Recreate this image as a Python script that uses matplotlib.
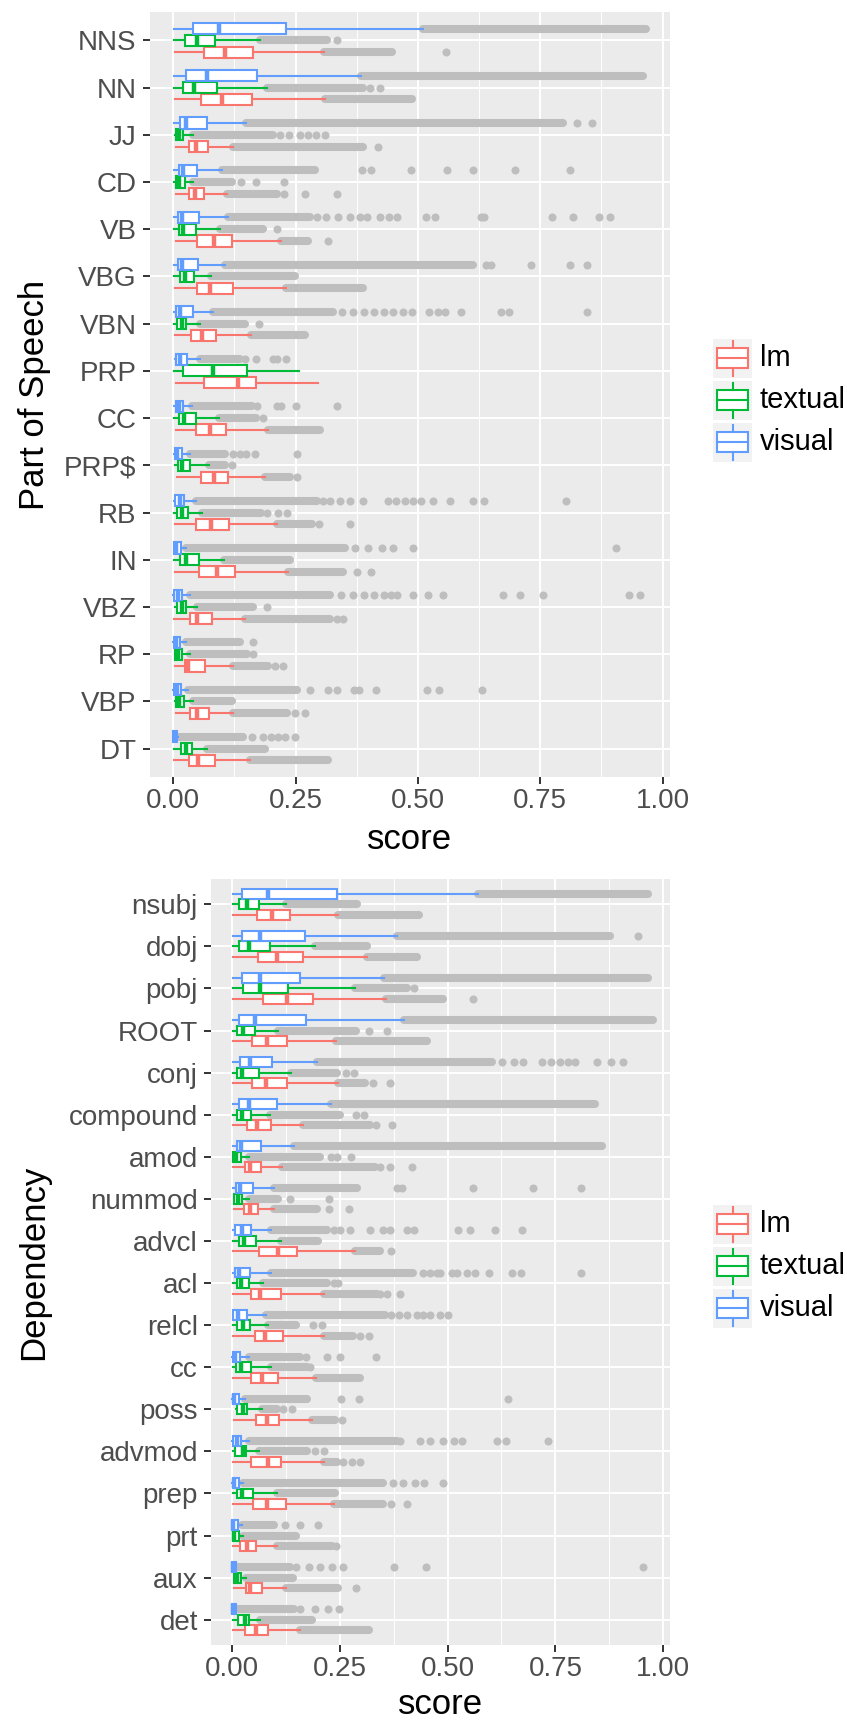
import numpy as np
import matplotlib
matplotlib.use("Agg")
import matplotlib.pyplot as plt
from matplotlib.patches import Rectangle

plt.rcParams['font.family'] = ['Liberation Sans', 'DejaVu Sans']

# ---- part of speech panel ----
pos_cats = ["NNS", "NN", "JJ", "CD", "VB", "VBG", "VBN", "PRP", "CC", "PRP$",
            "RB", "IN", "VBZ", "RP", "VBP", "DT"]

# per category: whisker low, q1, median, q3, whisker high, end of dense outlier run
pos_visual = [
    (0.002, 0.040, 0.093, 0.230, 0.510, 0.967),
    (0.002, 0.027, 0.068, 0.171, 0.383, 0.960),
    (0.002, 0.013, 0.027, 0.069, 0.149, 0.797),
    (0.002, 0.011, 0.019, 0.048, 0.099, 0.290),
    (0.002, 0.009, 0.017, 0.052, 0.112, 0.279),
    (0.002, 0.009, 0.017, 0.050, 0.106, 0.613),
    (0.002, 0.006, 0.014, 0.040, 0.082, 0.327),
    (0.003, 0.005, 0.014, 0.029, 0.055, 0.136),
    (0.002, 0.005, 0.012, 0.020, 0.039, 0.160),
    (0.002, 0.003, 0.008, 0.018, 0.034, 0.106),
    (0.002, 0.003, 0.014, 0.022, 0.046, 0.293),
    (0.001, 0.002, 0.006, 0.015, 0.027, 0.351),
    (0.000, 0.001, 0.010, 0.018, 0.035, 0.320),
    (0.000, 0.002, 0.006, 0.014, 0.027, 0.136),
    (0.000, 0.002, 0.007, 0.015, 0.031, 0.252),
    (0.000, 0.000, 0.003, 0.007, 0.010, 0.143),
]
pos_visual_pts = [
    [], [], [0.826, 0.856],
    [0.385, 0.405, 0.485, 0.559, 0.612, 0.699, 0.811],
    [0.293, 0.313, 0.337, 0.361, 0.381, 0.395, 0.422, 0.441, 0.458, 0.516, 0.535,
     0.628, 0.635, 0.774, 0.817, 0.871, 0.892],
    [0.640, 0.650, 0.732, 0.811, 0.846],
    [0.344, 0.368, 0.390, 0.410, 0.430, 0.450, 0.470, 0.487, 0.523, 0.540, 0.555,
     0.587, 0.669, 0.687, 0.845],
    [0.146, 0.170, 0.204, 0.211, 0.230],
    [0.172, 0.211, 0.221, 0.251, 0.335],
    [0.123, 0.136, 0.149, 0.168, 0.253],
    [0.305, 0.320, 0.340, 0.361, 0.388, 0.439, 0.455, 0.473, 0.490, 0.507, 0.531,
     0.565, 0.613, 0.634, 0.802],
    [0.371, 0.398, 0.426, 0.448, 0.490, 0.904],
    [0.343, 0.368, 0.390, 0.410, 0.430, 0.445, 0.457, 0.490, 0.521, 0.552, 0.673,
     0.708, 0.756, 0.931, 0.954],
    [0.162],
    [0.280, 0.317, 0.334, 0.370, 0.379, 0.414, 0.518, 0.543, 0.630],
    [0.160, 0.184, 0.200, 0.215, 0.228, 0.249],
]
pos_textual = [
    (0.002, 0.023, 0.049, 0.086, 0.178, 0.314),
    (0.002, 0.020, 0.042, 0.090, 0.192, 0.388),
    (0.003, 0.005, 0.012, 0.020, 0.041, 0.204),
    (0.002, 0.005, 0.012, 0.024, 0.040, 0.119),
    (0.002, 0.011, 0.020, 0.046, 0.095, 0.184),
    (0.002, 0.014, 0.024, 0.042, 0.078, 0.249),
    (0.002, 0.008, 0.017, 0.027, 0.055, 0.146),
    (0.002, 0.019, 0.082, 0.150, 0.257, None),
    (0.002, 0.012, 0.022, 0.046, 0.093, 0.170),
    (0.004, 0.010, 0.018, 0.035, 0.072, 0.106),
    (0.002, 0.007, 0.017, 0.031, 0.058, 0.180),
    (0.002, 0.014, 0.025, 0.053, 0.104, 0.238),
    (0.003, 0.008, 0.017, 0.025, 0.048, 0.163),
    (0.004, 0.004, 0.010, 0.017, 0.035, 0.150),
    (0.004, 0.006, 0.012, 0.022, 0.040, 0.119),
    (0.002, 0.015, 0.027, 0.039, 0.068, 0.187),
]
pos_textual_pts = [
    [0.334], [0.402, 0.422], [0.218, 0.236, 0.258, 0.275, 0.292, 0.310],
    [0.138, 0.170, 0.226], [0.211], [], [0.176], [], [0.183], [0.121],
    [0.191, 0.215, 0.232], [], [0.192], [0.162], [], [],
]
pos_lm = [
    (0.003, 0.063, 0.105, 0.162, 0.308, 0.446),
    (0.003, 0.057, 0.099, 0.161, 0.311, 0.487),
    (0.005, 0.033, 0.046, 0.071, 0.123, 0.388),
    (0.005, 0.033, 0.044, 0.063, 0.109, 0.211),
    (0.005, 0.049, 0.083, 0.120, 0.221, 0.276),
    (0.004, 0.049, 0.076, 0.123, 0.230, 0.388),
    (0.003, 0.036, 0.058, 0.087, 0.158, 0.269),
    (0.005, 0.063, 0.133, 0.170, 0.296, None),
    (0.005, 0.046, 0.076, 0.108, 0.194, 0.300),
    (0.007, 0.057, 0.083, 0.111, 0.187, 0.238),
    (0.003, 0.046, 0.078, 0.114, 0.211, 0.283),
    (0.003, 0.052, 0.090, 0.127, 0.235, 0.347),
    (0.002, 0.034, 0.048, 0.080, 0.147, 0.320),
    (0.003, 0.023, 0.031, 0.065, 0.123, 0.194),
    (0.005, 0.034, 0.048, 0.072, 0.123, 0.232),
    (0.002, 0.033, 0.051, 0.085, 0.157, 0.317),
]
pos_lm_pts = [
    [0.557], [], [0.418], [0.226, 0.270, 0.334], [0.317], [], [], [], [], [0.253],
    [0.298, 0.362], [0.375, 0.405], [0.334, 0.346], [0.208, 0.225], [0.249, 0.269], [],
]

# ---- dependency panel ----
dep_cats = ["nsubj", "dobj", "pobj", "ROOT", "conj", "compound", "amod", "nummod",
            "advcl", "acl", "relcl", "cc", "poss", "advmod", "prep", "prt", "aux", "det"]

dep_visual = [
    (0.002, 0.023, 0.085, 0.243, 0.570, 0.965),
    (0.002, 0.023, 0.066, 0.170, 0.384, 0.877),
    (0.002, 0.025, 0.066, 0.158, 0.354, 0.965),
    (0.002, 0.016, 0.054, 0.172, 0.399, 0.977),
    (0.002, 0.019, 0.043, 0.093, 0.197, 0.602),
    (0.002, 0.017, 0.039, 0.104, 0.229, 0.842),
    (0.002, 0.012, 0.021, 0.068, 0.145, 0.857),
    (0.002, 0.010, 0.019, 0.049, 0.097, 0.290),
    (0.002, 0.008, 0.023, 0.044, 0.091, 0.220),
    (0.004, 0.008, 0.018, 0.043, 0.091, 0.421),
    (0.002, 0.002, 0.015, 0.035, 0.079, 0.355),
    (0.001, 0.002, 0.008, 0.019, 0.039, 0.158),
    (0.001, 0.002, 0.006, 0.018, 0.031, 0.174),
    (0.001, 0.002, 0.013, 0.021, 0.041, 0.382),
    (0.001, 0.002, 0.005, 0.017, 0.027, 0.351),
    (0.000, 0.000, 0.004, 0.015, 0.023, 0.098),
    (0.000, 0.000, 0.002, 0.009, 0.010, 0.134),
    (0.000, 0.000, 0.002, 0.009, 0.010, 0.145),
]
dep_visual_pts = [
    [], [0.941], [], [],
    [0.626, 0.653, 0.676, 0.718, 0.740, 0.760, 0.780, 0.795, 0.846, 0.879, 0.906],
    [], [], [0.382, 0.394, 0.558, 0.699, 0.810],
    [0.236, 0.252, 0.274, 0.320, 0.351, 0.367, 0.405, 0.423, 0.524, 0.552, 0.609, 0.672],
    [0.444, 0.460, 0.475, 0.483, 0.510, 0.521, 0.545, 0.564, 0.595, 0.649, 0.670, 0.810],
    [0.368, 0.388, 0.407, 0.429, 0.443, 0.460, 0.483, 0.502],
    [0.172, 0.220, 0.251, 0.334],
    [0.253, 0.296, 0.639],
    [0.390, 0.436, 0.460, 0.490, 0.514, 0.533, 0.614, 0.636, 0.732],
    [0.373, 0.398, 0.425, 0.446, 0.490],
    [0.124, 0.158, 0.200],
    [0.148, 0.180, 0.205, 0.232, 0.259, 0.377, 0.450, 0.954],
    [0.158, 0.193, 0.224, 0.249],
]
dep_textual = [
    (0.002, 0.017, 0.035, 0.063, 0.125, 0.290),
    (0.002, 0.017, 0.041, 0.089, 0.192, 0.313),
    (0.002, 0.026, 0.066, 0.131, 0.286, 0.405),
    (0.003, 0.013, 0.026, 0.053, 0.107, 0.287),
    (0.002, 0.013, 0.023, 0.064, 0.137, 0.243),
    (0.002, 0.012, 0.023, 0.044, 0.089, 0.251),
    (0.002, 0.002, 0.010, 0.021, 0.039, 0.205),
    (0.006, 0.006, 0.015, 0.025, 0.039, 0.108),
    (0.002, 0.017, 0.029, 0.056, 0.114, 0.200),
    (0.002, 0.012, 0.021, 0.039, 0.072, 0.220),
    (0.002, 0.012, 0.027, 0.043, 0.085, 0.150),
    (0.002, 0.010, 0.021, 0.044, 0.091, 0.174),
    (0.010, 0.012, 0.027, 0.036, 0.070, 0.104),
    (0.002, 0.008, 0.026, 0.032, 0.063, 0.174),
    (0.002, 0.013, 0.025, 0.050, 0.104, 0.239),
    (0.002, 0.002, 0.006, 0.017, 0.027, 0.149),
    (0.006, 0.006, 0.012, 0.021, 0.032, 0.143),
    (0.002, 0.014, 0.031, 0.039, 0.066, 0.185),
]
dep_textual_pts = [
    [], [], [0.423], [0.318, 0.359], [0.264, 0.284], [0.287, 0.307],
    [0.230, 0.245, 0.276], [0.135, 0.226], [], [0.236, 0.247], [0.189, 0.209],
    [0.181], [0.120, 0.139], [0.193, 0.214], [], [], [], [],
]
dep_lm = [
    (0.002, 0.058, 0.093, 0.135, 0.246, 0.433),
    (0.003, 0.061, 0.104, 0.165, 0.313, 0.429),
    (0.002, 0.073, 0.129, 0.189, 0.357, 0.490),
    (0.002, 0.048, 0.081, 0.127, 0.242, 0.452),
    (0.002, 0.046, 0.079, 0.129, 0.247, 0.309),
    (0.002, 0.036, 0.058, 0.090, 0.166, 0.320),
    (0.002, 0.030, 0.043, 0.068, 0.117, 0.332),
    (0.006, 0.029, 0.043, 0.060, 0.097, 0.197),
    (0.004, 0.064, 0.108, 0.152, 0.286, 0.344),
    (0.002, 0.045, 0.066, 0.114, 0.215, 0.336),
    (0.002, 0.054, 0.077, 0.120, 0.214, 0.282),
    (0.003, 0.045, 0.070, 0.107, 0.195, 0.297),
    (0.006, 0.056, 0.081, 0.110, 0.185, 0.239),
    (0.002, 0.045, 0.083, 0.114, 0.215, 0.243),
    (0.002, 0.050, 0.081, 0.126, 0.236, 0.351),
    (0.002, 0.019, 0.035, 0.056, 0.106, 0.232),
    (0.006, 0.032, 0.043, 0.071, 0.126, 0.247),
    (0.002, 0.031, 0.056, 0.085, 0.158, 0.317),
]
dep_lm_pts = [
    [], [], [0.558], [], [0.328, 0.367], [0.334, 0.372], [0.344, 0.367, 0.417],
    [0.226, 0.271], [0.369], [0.344, 0.360, 0.390], [0.297, 0.317], [], [0.255],
    [0.259, 0.278, 0.297], [0.370, 0.405], [0.242], [0.287], [],
]

groups = ["lm", "textual", "visual"]
colors = {"lm": "#F8766D", "textual": "#00BA38", "visual": "#619CFF"}
offsets = {"lm": 0.25, "textual": 0.0, "visual": -0.25}
GREY = "#BEBEBE"
PT = 5.8  # outlier dot size


def draw_group(ax, stats, pts, color, off):
    ys = np.arange(len(stats)) + off
    for y, s, p in zip(ys, stats, pts):
        if s[5] is not None:
            ax.plot([s[4], s[5]], [y, y], color=GREY, lw=PT, solid_capstyle="round", zorder=1)
        if p:
            ax.plot(p, [y] * len(p), "o", color=GREY, ms=PT, mew=0, zorder=1)
    bx = [dict(whislo=s[0], q1=s[1], med=s[2], q3=s[3], whishi=s[4], fliers=[]) for s in stats]
    ax.bxp(bx, positions=ys, widths=0.235, orientation="horizontal", showfliers=False,
           showcaps=False, patch_artist=True, zorder=2,
           boxprops=dict(facecolor="white", edgecolor=color, lw=1.5),
           whiskerprops=dict(color=color, lw=1.5),
           medianprops=dict(color=color, lw=3.2, solid_capstyle="butt"))


def draw_panel(ax, cats, data, ylabel, ylab_x, xlab_y):
    for g in groups:
        stats, pts = data[g]
        draw_group(ax, stats, pts, colors[g], offsets[g])
    n = len(cats)
    ax.set_facecolor("#EBEBEB")
    for sp in ax.spines.values():
        sp.set_visible(False)
    ax.set_xlim(-0.0484, 1.0159)
    ax.set_ylim(n - 0.4, -0.6)
    ax.set_yticks(np.arange(n))
    ax.set_yticklabels(cats)
    ax.set_xticks([0, 0.25, 0.5, 0.75, 1.0])
    ax.set_xticklabels(["0.00", "0.25", "0.50", "0.75", "1.00"])
    ax.set_xticks([0.125, 0.375, 0.625, 0.875], minor=True)
    ax.grid(which="major", color="white", lw=1.4)
    ax.grid(which="minor", axis="x", color="white", lw=0.7)
    ax.set_axisbelow(True)
    ax.tick_params(which="major", length=5, width=1.4, color="#333333",
                   labelcolor="#4D4D4D", labelsize=20)
    ax.tick_params(axis="y", pad=4.3)
    ax.tick_params(axis="x", pad=3)
    ax.tick_params(which="minor", length=0)
    ax.set_xlabel("score", fontsize=25, va="center")
    ax.set_ylabel(ylabel, fontsize=25)
    ax.yaxis.set_label_coords(ylab_x, 0.5)
    ax.xaxis.set_label_coords(0.5, xlab_y)


def draw_legend(ax, yc):
    # ggplot-style legend keys, in figure pixels
    kx, ks = 713, 39
    for i, g in enumerate(groups):
        cy = yc + (i - 1) * 42
        top = cy - ks / 2
        ax.add_patch(Rectangle((kx, top), ks, ks, facecolor="#F2F2F2", edgecolor="none"))
        c = colors[g]
        ax.add_patch(Rectangle((kx + 4, top + ks * 0.24), ks - 8, ks * 0.52,
                               facecolor="white", edgecolor=c, lw=1.5))
        ax.plot([kx + 4, kx + ks - 4], [cy, cy], color=c, lw=1.5)
        ax.plot([kx + ks / 2] * 2, [top + 2, top + ks * 0.24], color=c, lw=1.5)
        ax.plot([kx + ks / 2] * 2, [top + ks * 0.76, top + ks - 2], color=c, lw=1.5)
        ax.text(kx + ks + 8, cy, g, fontsize=21, va="center", ha="left", color="black")


fig = plt.figure(figsize=(8.47, 17.22), dpi=100)
W, H = 847, 1722
ax1 = fig.add_axes([149.6 / W, (H - 777) / H, (670.4 - 149.6) / W, 765 / H])
ax2 = fig.add_axes([210.8 / W, (H - 1645) / H, (670.2 - 210.8) / W, 766 / H])

draw_panel(ax1, pos_cats,
           {"lm": (pos_lm, pos_lm_pts), "textual": (pos_textual, pos_textual_pts),
            "visual": (pos_visual, pos_visual_pts)},
           "Part of Speech", -0.19, -0.082)
draw_panel(ax2, dep_cats,
           {"lm": (dep_lm, dep_lm_pts), "textual": (dep_textual, dep_textual_pts),
            "visual": (dep_visual, dep_visual_pts)},
           "Dependency", -0.35, -0.078)

lg = fig.add_axes([0, 0, 1, 1])
lg.set_xlim(0, W)
lg.set_ylim(H, 0)
lg.axis("off")
draw_legend(lg, 400)
draw_legend(lg, 1266)

fig.savefig("out.png", dpi=100)
